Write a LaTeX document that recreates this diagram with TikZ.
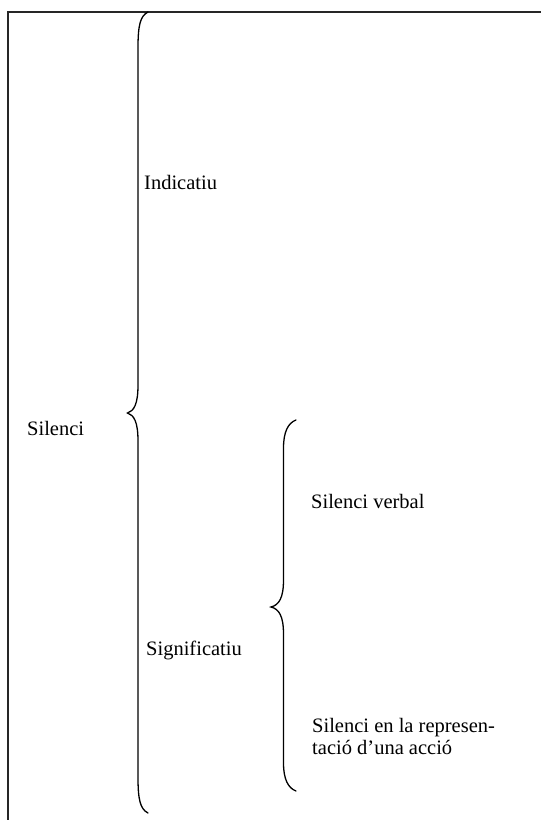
\documentclass[tikz,border=0pt]{standalone}
\usepackage{fontspec}
\setmainfont{Liberation Serif}
\begin{document}
\begin{tikzpicture}[x=1pt,y=-1pt,
  frameline/.style={line width=1.4pt,black!85},
  bracepath/.style={line width=1.3pt,black,line cap=round},
  label/.style={inner sep=0pt,anchor=base west,font=\fontsize{20.5}{22.5}\selectfont}]
  \useasboundingbox (0,0) rectangle (541,820);
  % outer frame (top and left rules)
  \coordinate (ftl) at (8,12);
  \coordinate (ftr) at (541,12);
  \coordinate (fbl) at (8,820);
  \draw[frameline] (fbl) -- (ftl) -- (ftr);
  % labels
  \node[label] (silenci) at (27,435) {Silenci};
  \node[label] (indicatiu) at (144,189) {Indicatiu};
  \node[label] (signif) at (146,655) {Significatiu};
  \node[label] (verbal) at (311,508) {Silenci verbal};
  \node[label] (act1) at (312,732) {Silenci en la represen-};
  \node[label] (act2) at (312,754) {tació d’una acció};
  % main brace
  \coordinate (bt) at (148,12);
  \coordinate (bm) at (127.5,413);
  \coordinate (bb) at (148,813);
  \draw[bracepath] (bt) .. controls (140,16) and (138,26) .. (138,48)
    -- (138,385) .. controls (138,404) and (134,411) .. (bm)
    .. controls (134,415) and (138,422) .. (138,441)
    -- (138,777) .. controls (138,799) and (140,809) .. (bb);
  % secondary brace
  \coordinate (st) at (296,420);
  \coordinate (sm) at (271,607);
  \coordinate (sb) at (296,791);
  \draw[bracepath] (st) .. controls (288,423) and (283.5,432) .. (283.5,448)
    -- (283.5,580) .. controls (283.5,598) and (279,605) .. (sm)
    .. controls (279,609) and (283.5,616) .. (283.5,634)
    -- (283.5,763) .. controls (283.5,779) and (288,788) .. (sb);
\end{tikzpicture}
\end{document}
